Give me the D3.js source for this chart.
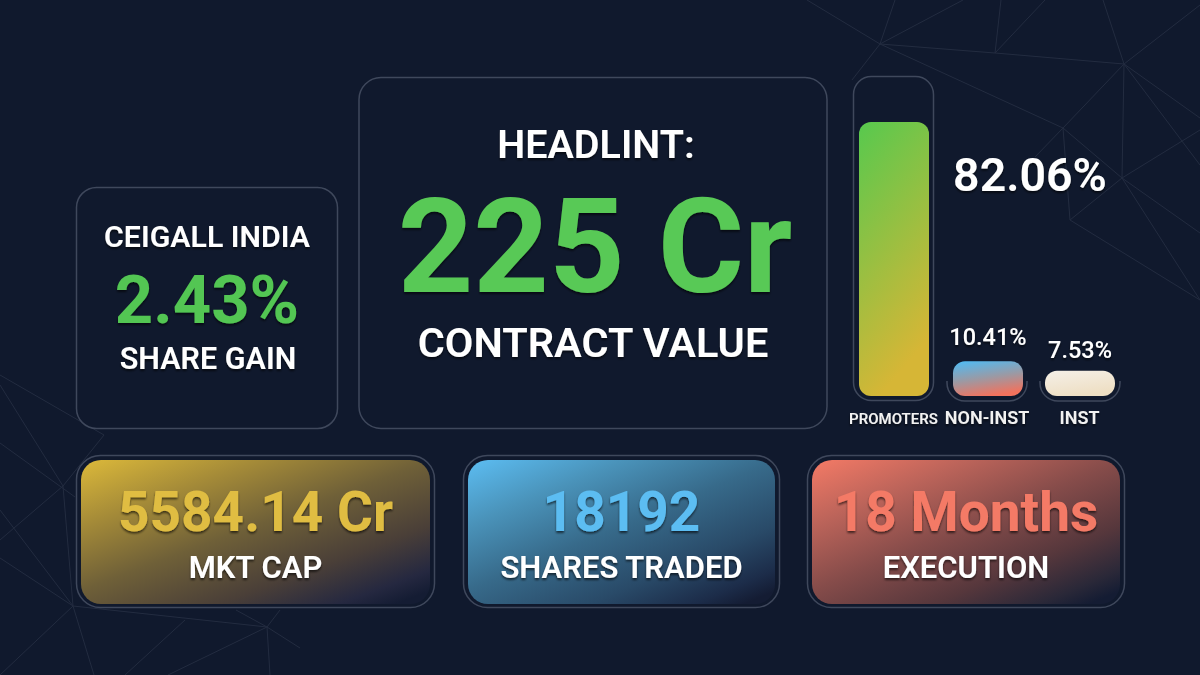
<!DOCTYPE html>
<html>
<head>
<meta charset="utf-8">
<script src="https://cdnjs.cloudflare.com/ajax/libs/d3/7.8.5/d3.min.js"></script>
<style>
html, body { margin: 0; padding: 0; background: #10192d; overflow: hidden; }
text { font-family: Roboto, sans-serif; text-anchor: middle; }
</style>
</head>
<body>
<div id="chart"></div>
<script>
// shareholding bars
const holders = ['PROMOTERS', 'NON-INST', 'INST'];
const holderValues = [82.06, 10.41, 7.53];
const holderLabels = ['82.06%', '10.41%', '7.53%'];

// bottom stat cards
const statValues = ['5584.14 Cr', '18192', '18 Months'];
const statNames = ['MKT CAP', 'SHARES TRADED', 'EXECUTION'];

const width = 1200, height = 675;
const svg = d3.select('#chart').append('svg')
    .attr('width', width).attr('height', height)
    .style('display', 'block');
const defs = svg.append('defs');

svg.append('rect').attr('width', width).attr('height', height).attr('fill', '#10192d');

function gradient(id, stops, x1, y1, x2, y2) {
    const g = defs.append('linearGradient').attr('id', id)
        .attr('x1', x1).attr('y1', y1).attr('x2', x2).attr('y2', y2);
    stops.forEach(s => g.append('stop').attr('offset', s[0]).attr('stop-color', s[1]));
}
gradient('grad-gold', [[0, '#dcb93a'], [0.25, '#a58b38'], [0.5, '#6f6038'], [0.75, '#4a3f38'], [0.92, '#252840'], [1, '#141c33']], 0, 0, 0.9, 1);
gradient('grad-blue', [[0, '#5cbdf2'], [0.25, '#4a93ba'], [0.5, '#376a8a'], [0.75, '#294a68'], [0.92, '#1c2c49'], [1, '#141c33']], 0, 0, 0.9, 1);
gradient('grad-red', [[0, '#f47a66'], [0.25, '#bc645a'], [0.5, '#864c4a'], [0.75, '#56373c'], [0.92, '#2a2838'], [1, '#141c33']], 0, 0, 0.9, 1);
gradient('grad-promo', [[0, '#57c94e'], [1, '#d6b636']], 0, 0, 0.3, 1);
gradient('grad-non', [[0, '#54b9ef'], [0.5, '#9a9aa5'], [1, '#f2725d']], 0.2, 0, 0.5, 1);
gradient('grad-inst', [[0, '#f5f0e8'], [1, '#eedfc4']], 0, 0, 0.4, 1);

const shadow = defs.append('filter').attr('id', 'txt-shadow')
    .attr('x', '-20%').attr('y', '-20%').attr('width', '140%').attr('height', '150%');
shadow.append('feDropShadow').attr('dx', 0).attr('dy', 2).attr('stdDeviation', 1.2)
    .attr('flood-color', '#000').attr('flood-opacity', 0.6);

// faint network lines in the background
const netLines = [
    // top right
    [[880, 44], [807, 0]], [[880, 44], [895, 0]], [[880, 44], [963, 0]], [[880, 44], [852, 80]],
    [[880, 44], [995, 53]], [[995, 53], [1124, 64]], [[880, 44], [1063, 128]],
    [[995, 53], [1001, 0]], [[995, 53], [1045, 0]],
    [[1124, 64], [1103, 0]], [[1124, 64], [1200, 5]], [[1124, 64], [1063, 128]],
    [[1124, 64], [1122, 178]], [[1124, 64], [1200, 118]], [[1124, 64], [1200, 165]],
    [[1063, 128], [1070, 220]], [[1063, 128], [1122, 178]], [[1063, 128], [1035, 157]],
    [[1122, 178], [1070, 220]], [[1122, 178], [1200, 130]], [[1122, 178], [1200, 233]],
    [[1122, 178], [1200, 300]], [[1070, 220], [1200, 300]],
    // bottom left
    [[0, 375], [104, 435]], [[104, 435], [63, 486]], [[0, 385], [63, 486]], [[0, 443], [75, 497]],
    [[63, 486], [0, 540]], [[63, 486], [73, 606]], [[0, 510], [73, 606]], [[0, 558], [73, 606]],
    [[73, 606], [0, 675]], [[73, 606], [94, 675]], [[73, 606], [267, 627]],
    [[267, 627], [168, 675]], [[185, 620], [125, 675]], [[267, 627], [270, 675]],
    [[267, 627], [300, 648]], [[280, 610], [267, 627]], [[236, 610], [267, 627]]
];
svg.append('g').selectAll('line').data(netLines).join('line')
    .attr('x1', d => d[0][0]).attr('y1', d => d[0][1])
    .attr('x2', d => d[1][0]).attr('y2', d => d[1][1])
    .attr('stroke', '#232c40').attr('stroke-width', 1);

function panel(x, y, w, h, r) {
    svg.append('rect').attr('x', x).attr('y', y).attr('width', w).attr('height', h).attr('rx', r)
        .attr('fill', '#10192d').attr('stroke', '#3f485c').attr('stroke-width', 1.5);
}

function label(str, x, y, size, color, weight) {
    return svg.append('text').attr('x', x).attr('y', y)
        .attr('font-size', size).attr('font-weight', weight || 600)
        .attr('fill', color).attr('filter', 'url(#txt-shadow)').text(str);
}

// left card
panel(76.5, 187.5, 261, 241, 20);
label('CEIGALL INDIA', 207, 247, 30.3, '#ffffff', 600);
label('2.43%', 207, 323, 67, '#52c653', 700);
label('SHARE GAIN', 208, 369, 30.5, '#ffffff', 600);

// main card
panel(359, 77.5, 468, 351, 22);
label('HEADLINT:', 596, 158, 39.5, '#ffffff', 600);
label('225 Cr', 595, 292, 132, '#59c956', 700);
label('CONTRACT VALUE', 593, 357, 41.5, '#ffffff', 600);

// shareholding: bars share one linear scale
const barBottom = 396;
const y = d3.scaleLinear().domain([0, 100]).range([barBottom, 62]);
const barX = d3.scaleOrdinal().domain(holders).range([859, 953, 1045]);
const barW = 70;
const barFills = ['url(#grad-promo)', 'url(#grad-non)', 'url(#grad-inst)'];

// the promoter track is a full pill, the other two only show their bottom curve
svg.append('rect').attr('x', 853.5).attr('y', 76.5).attr('width', 80).attr('height', 324).attr('rx', 18)
    .attr('fill', 'none').attr('stroke', '#3f485c').attr('stroke-width', 1.5);
[947, 1040].forEach(x => {
    svg.append('path')
        .attr('d', `M${x},381 v2 a18,18 0 0 0 18,18 h44 a18,18 0 0 0 18,-18 v-2`)
        .attr('fill', 'none').attr('stroke', '#3f485c').attr('stroke-width', 1.5);
});

svg.append('g').selectAll('rect').data(holders).join('rect')
    .attr('x', d => barX(d))
    .attr('y', (d, i) => y(holderValues[i]))
    .attr('width', barW)
    .attr('height', (d, i) => barBottom - y(holderValues[i]))
    .attr('rx', 12)
    .attr('fill', (d, i) => barFills[i]);

label(holderLabels[0], 1030, 191, 46.5, '#ffffff', 600);
label(holderLabels[1], 988, 345, 23.5, '#ffffff', 500);
label(holderLabels[2], 1080, 358, 23.5, '#ffffff', 500);
label(holders[0], 893.5, 424, 15, '#f2f2f2', 600);
label(holders[1], 987, 424, 18, '#f2f2f2', 600);
label(holders[2], 1079.5, 424, 18, '#f2f2f2', 600);

// bottom cards
const cardX = [76, 463, 807];
const cardW = [358, 316, 317];
const cardFills = ['url(#grad-gold)', 'url(#grad-blue)', 'url(#grad-red)'];
const cardColors = ['#e0bd42', '#5cbdf2', '#f47a66'];
statValues.forEach((v, i) => {
    panel(cardX[i] + 0.5, 455.5, cardW[i], 152, 24);
    svg.append('rect').attr('x', cardX[i] + 5).attr('y', 460).attr('width', cardW[i] - 9).attr('height', 144).attr('rx', 20)
        .attr('fill', cardFills[i]);
    const cx = cardX[i] + cardW[i] / 2 + 0.5;
    label(v, cx, 531, 55, cardColors[i], 700);
    label(statNames[i], cx, 578, 31, '#ffffff', 600);
});
</script>
</body>
</html>
